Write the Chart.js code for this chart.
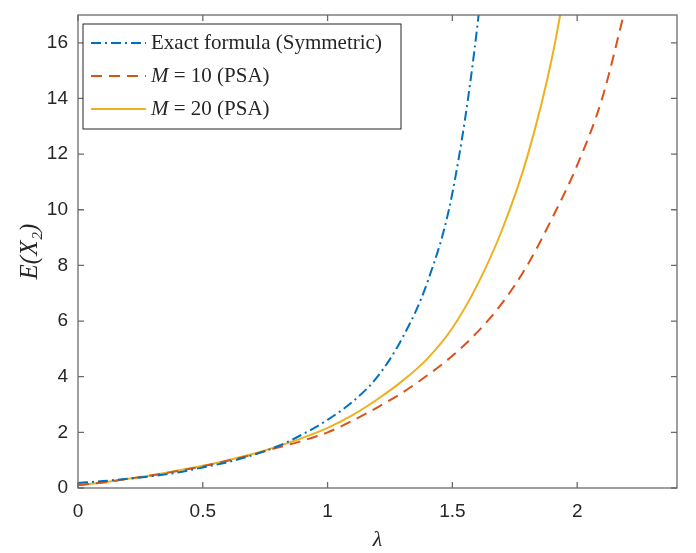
<!DOCTYPE html>
<html>
    <head>
        <title>E(X2) vs lambda</title>
        <script src="https://cdn.jsdelivr.net/npm/chart.js@4"></script>
        <style>
            html, body { margin: 0; padding: 0; background: #fff; }
            #wrap { width: 696px; height: 553px; }
        </style>
    </head>
    <body>
        <div id="wrap"><canvas id="plot1"></canvas></div>

        <script>
            // values
            const lambda = [0, 0.1, 0.2, 0.3, 0.4, 0.5, 0.6, 0.7, 0.8, 0.9, 1.0,
                1.1, 1.2, 1.3, 1.4, 1.5, 1.6, 1.7, 1.8, 1.9, 2.0, 2.1, 2.2, 2.3]
            const exactSym = [0.18, 0.25, 0.33, 0.43, 0.56, 0.74, 0.93, 1.18, 1.50, 1.93, 2.45,
                3.1, 4.0, 5.4, 7.4, 10.6, 16.6, 26]
            const psaM10 = [0.10, 0.20, 0.33, 0.46, 0.61, 0.78, 0.98, 1.20, 1.45, 1.70, 2.00,
                2.42, 2.90, 3.43, 4.05, 4.75, 5.6, 6.65, 8.0, 9.7, 11.6, 14.0, 17.5, 21]
            const psaM20 = [0.10, 0.20, 0.33, 0.47, 0.63, 0.80, 1.00, 1.22, 1.50, 1.80, 2.16,
                2.62, 3.19, 3.85, 4.65, 5.75, 7.3, 9.3, 11.9, 15.5, 20.5]
            const seriesLabels = ['Exact formula (Symmetric)', 'M = 10 (PSA)', 'M = 20 (PSA)']
            const xTicks = [0, 0.5, 1, 1.5, 2]
            const yTicks = [0, 2, 4, 6, 8, 10, 12, 14, 16]

            const pts = ys => ys.map((y, i) => ({ x: lambda[i], y }))

            const axisColor = '#6b6b6b'
            const textColor = '#262626'

            // MATLAB-ish box with inward ticks on all four sides
            const boxPlugin = {
                id: 'box',
                afterDraw(chart) {
                    const { ctx, chartArea: a, scales } = chart
                    const tl = 6
                    ctx.save()
                    ctx.strokeStyle = axisColor
                    ctx.lineWidth = 1.3
                    ctx.beginPath()
                    xTicks.forEach(v => {
                        const px = scales.x.getPixelForValue(v)
                        ctx.moveTo(px, a.bottom); ctx.lineTo(px, a.bottom - tl)
                        ctx.moveTo(px, a.top); ctx.lineTo(px, a.top + tl)
                    })
                    yTicks.forEach(v => {
                        const py = scales.y.getPixelForValue(v)
                        ctx.moveTo(a.left, py); ctx.lineTo(a.left + tl, py)
                        ctx.moveTo(a.right, py); ctx.lineTo(a.right - tl, py)
                    })
                    ctx.stroke()
                    ctx.strokeRect(a.left, a.top, a.right - a.left, a.bottom - a.top)
                    ctx.restore()
                },
            }

            // legend drawn inside the axes, top-left
            const legendPlugin = {
                id: 'innerLegend',
                afterDraw(chart) {
                    const { ctx, chartArea: a } = chart
                    const x0 = a.left + 5, y0 = a.top + 9
                    const w = 318, h = 105
                    ctx.save()
                    ctx.fillStyle = '#fff'
                    ctx.fillRect(x0, y0, w, h)
                    ctx.strokeStyle = '#262626'
                    ctx.lineWidth = 1
                    ctx.strokeRect(x0, y0, w, h)
                    chart.data.datasets.forEach((ds, i) => {
                        const cy = y0 + 19 + i * 33
                        ctx.strokeStyle = ds.borderColor
                        ctx.lineWidth = ds.borderWidth
                        ctx.setLineDash(ds.borderDash || [])
                        ctx.beginPath()
                        ctx.moveTo(x0 + 8, cy)
                        ctx.lineTo(x0 + 63, cy)
                        ctx.stroke()
                        ctx.setLineDash([])
                        ctx.fillStyle = textColor
                        ctx.textBaseline = 'middle'
                        let tx = x0 + 68
                        let label = ds.label
                        if (label.startsWith('M ')) {
                            ctx.font = 'italic 21px "Liberation Serif"'
                            ctx.fillText('M', tx, cy)
                            tx += ctx.measureText('M').width
                            label = label.slice(1)
                        }
                        ctx.font = '21px "Liberation Serif"'
                        ctx.fillText(label, tx, cy)
                    })
                    ctx.restore()
                },
            }

            const keepTicks = list => scale => {
                scale.ticks = list.map(v => ({ value: v }))
            }

            new Chart(document.getElementById('plot1'), {
                type: 'line',
                data: {
                    datasets: [
                        {
                            label: seriesLabels[0],
                            data: pts(exactSym),
                            borderColor: '#0072BD',
                            borderWidth: 2,
                            borderDash: [10, 4, 2, 4],
                        },
                        {
                            label: seriesLabels[1],
                            data: pts(psaM10),
                            borderColor: '#D95319',
                            borderWidth: 2,
                            borderDash: [11, 7],
                        },
                        {
                            label: seriesLabels[2],
                            data: pts(psaM20),
                            borderColor: '#EDB120',
                            borderWidth: 2,
                        },
                    ],
                },
                options: {
                    responsive: true,
                    maintainAspectRatio: false,
                    animation: false,
                    devicePixelRatio: 1,
                    elements: {
                        point: { radius: 0 },
                        line: { cubicInterpolationMode: 'monotone' },
                    },
                    layout: { padding: { top: 15, right: 19, left: 0, bottom: 0 } },
                    plugins: { legend: { display: false }, tooltip: { enabled: false } },
                    scales: {
                        x: {
                            type: 'linear',
                            min: 0,
                            max: 2.4,
                            grid: { display: false, drawTicks: false },
                            border: { display: false },
                            afterBuildTicks: keepTicks(xTicks),
                            afterFit: s => {
                                s.height = 65
                                s.paddingLeft = 0
                                s.paddingRight = 0
                            },
                            ticks: {
                                padding: 12,
                                color: textColor,
                                font: { family: 'Liberation Sans', size: 19 },
                                maxRotation: 0,
                                callback: v => String(v),
                            },
                            title: {
                                display: true,
                                text: 'λ',
                                color: textColor,
                                font: { family: 'Liberation Serif', size: 22, style: 'italic' },
                                padding: { top: 5, bottom: 0 },
                            },
                        },
                        y: {
                            type: 'linear',
                            min: 0,
                            max: 17,
                            grid: { display: false, drawTicks: false },
                            border: { display: false },
                            afterBuildTicks: keepTicks(yTicks),
                            afterFit: s => {
                                s.width = 78
                                s.paddingTop = 0
                                s.paddingBottom = 0
                            },
                            ticks: {
                                padding: 10,
                                color: textColor,
                                font: { family: 'Liberation Sans', size: 19 },
                                callback: v => String(v),
                            },
                            title: {
                                display: true,
                                text: 'E(X₂)',
                                color: textColor,
                                font: { family: 'Liberation Serif', size: 25, style: 'italic' },
                                padding: { top: 15, bottom: 0 },
                            },
                        },
                    },
                },
                plugins: [boxPlugin, legendPlugin],
            })
        </script>
    </body>
</html>
